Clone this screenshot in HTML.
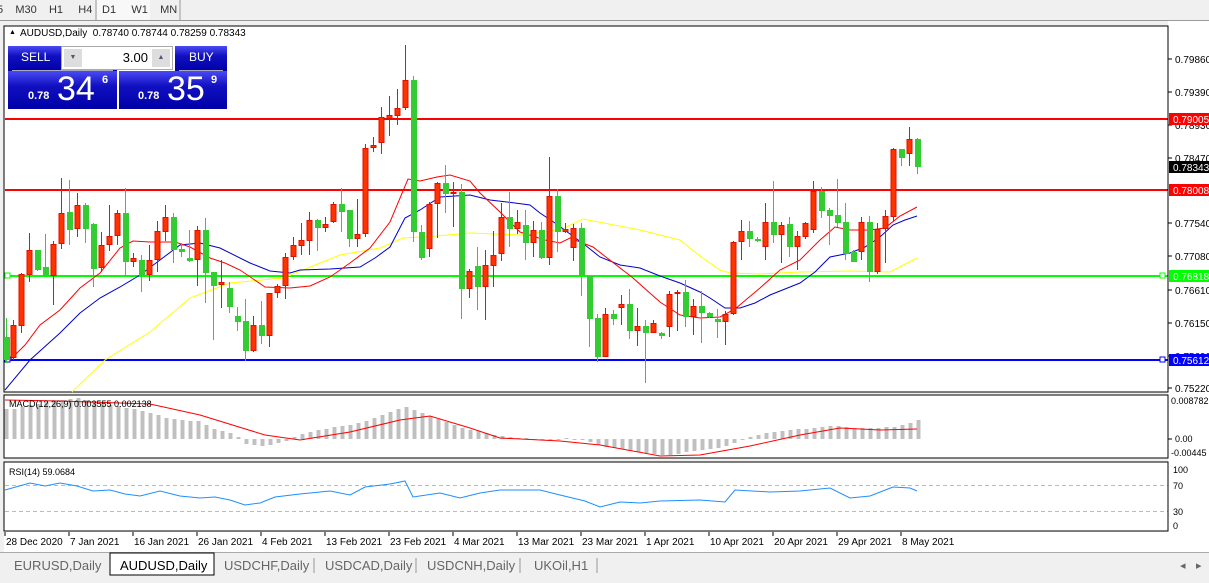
<!DOCTYPE html>
<html><head><meta charset="utf-8"><style>
body{margin:0;width:1209px;height:583px;overflow:hidden;background:#f0f0f0;font-family:"Liberation Sans",sans-serif;position:relative}
.t{position:absolute;font-size:11px;color:#000;white-space:nowrap}
svg{position:absolute;left:0;top:0}
.btn{position:absolute;background:linear-gradient(#4a4af5,#1010c0 40%,#0000a8);color:#fff;text-align:center}
</style></head><body>
<svg id="s" width="1209" height="583"></svg>
<div class="t" style="left:-3px;top:4px;font-size:11px;color:#333">5 &nbsp;&nbsp;&nbsp;M30 &nbsp;&nbsp;&nbsp;H1 &nbsp;&nbsp;&nbsp;&nbsp;H4</div>
<div class="t" style="left:102px;top:4px;color:#333">D1 &nbsp;&nbsp;&nbsp;&nbsp;W1 &nbsp;&nbsp;&nbsp;MN</div>
<div class="t" style="left:20px;top:28px;font-size:10px">AUDUSD,Daily &nbsp;0.78740 0.78744 0.78259 0.78343</div>
<div class="t" style="left:9px;top:29px;font-size:7px">&#9650;</div>
<div class="btn" style="left:8px;top:46px;width:109px;height:25px;"><span style="position:absolute;left:13px;top:4px;font-size:12px">SELL</span><div style="position:absolute;left:4px;right:4px;top:24px;border-top:1px solid #aab"></div></div>
<div class="btn" style="left:8px;top:71px;width:109px;height:38px;"><span style="position:absolute;left:20px;top:19px;font-size:11px;font-weight:bold">0.78</span><span style="position:absolute;left:49px;top:-1px;font-size:34px">34</span><span style="position:absolute;left:94px;top:3px;font-size:11px;font-weight:bold">6</span></div>
<div class="btn" style="left:119px;top:71px;width:108px;height:38px;"><span style="position:absolute;left:19px;top:19px;font-size:11px;font-weight:bold">0.78</span><span style="position:absolute;left:48px;top:-1px;font-size:34px">35</span><span style="position:absolute;left:92px;top:3px;font-size:11px;font-weight:bold">9</span></div>
<div class="btn" style="left:175px;top:46px;width:52px;height:25px;"><span style="position:absolute;left:14px;top:4px;font-size:12px">BUY</span><div style="position:absolute;left:4px;right:4px;top:24px;border-top:1px solid #aab"></div></div>
<div style="position:absolute;left:61px;top:46px;width:112px;height:24px;background:#fff;border:1px solid #aaa;box-sizing:border-box">
<div style="position:absolute;left:2px;top:2px;width:18px;height:18px;background:#ddd;font-size:7px;color:#557;text-align:center;line-height:18px">&#9660;</div>
<div style="position:absolute;right:2px;top:2px;width:18px;height:18px;background:#ddd;font-size:7px;color:#557;text-align:center;line-height:18px">&#9650;</div>
<span style="position:absolute;right:24px;top:3px;font-size:13px">3.00</span></div>
<script>
var S=document.getElementById('s'),h='';
function R(x,y,w,hh,f,st){h+='<rect x="'+x+'" y="'+y+'" width="'+w+'" height="'+hh+'" fill="'+f+'"'+(st?' stroke="'+st+'"':'')+'/>';}
function L(x1,y1,x2,y2,c,w,d){h+='<line x1="'+x1+'" y1="'+y1+'" x2="'+x2+'" y2="'+y2+'" stroke="'+c+'" stroke-width="'+(w||1)+'"'+(d?' stroke-dasharray="'+d+'"':'')+'/>';}
function P(pts,c,w){h+='<polyline fill="none" stroke="'+c+'" stroke-width="'+(w||1)+'" points="'+pts.map(function(p){return p.join(',')}).join(' ')+'"/>';}
function T(x,y,s,sz,c,a){h+='<text x="'+x+'" y="'+y+'" font-size="'+(sz||10)+'" fill="'+(c||'#000')+'"'+(a?' text-anchor="'+a+'"':'')+' font-family="Liberation Sans">'+s+'</text>';}
R(0,0,1209,21,'#f0f0f0');R(97,0,53,21,'#f8f8f8');L(96,0,96,20,'#999');L(180,0,180,20,'#999');L(0,20.5,1209,20.5,'#999');
R(1168,21,41,531,'#fff');
R(4,26,1164,366,'#fff','#000');R(4,395,1164,63,'#fff','#000');R(4,462,1164,69,'#fff','#000');
R(0,21,3,531,'#f0f0f0');
L(5,119,1168,119,'#f00',2);L(5,190,1168,190,'#f00',2);L(5,276,1168,276,'#0f0',2);L(5,360,1168,360,'#00f',2);
R(5,273,5,5,'#fff','#0f0');R(1160,273,5,5,'#fff','#0f0');R(5,357,5,5,'#fff','#00f');R(1160,357,5,5,'#fff','#00f');
P([[72,392],[105,360],[150,332],[190,298],[230,283],[283,278],[340,255],[380,248],[403,238],[437,236],[470,233],[520,235],[560,230],[583,219],[640,230],[680,240],[700,256],[720,270],[730,273],[760,274],[800,272],[850,271],[890,272],[917,258]],'#ff0');
P([[5,390],[30,360],[60,333],[80,313],[100,298],[120,287],[140,275],[160,260],[180,245],[200,243],[220,248],[250,263],[270,271],[290,273],[300,270],[330,269],[360,267],[375,258],[390,247],[405,218],[420,210],[440,197],[470,195],[490,200],[515,203],[530,205],[540,213],[555,223],[570,234],[585,245],[600,257],[620,265],[640,268],[660,276],[680,283],[700,292],[710,298],[725,308],[740,308],[755,303],[770,295],[790,287],[800,283],[815,272],[830,257],[850,253],[865,247],[880,237],[893,225],[905,220],[917,216]],'#00c');
P([[10,360],[25,345],[40,325],[60,310],[80,288],[100,273],[120,248],[133,241],[150,242],[175,242],[190,247],[210,258],[225,263],[240,270],[265,287],[290,288],[310,286],[330,277],[350,263],[370,248],[390,222],[408,179],[420,181],[437,177],[450,175],[470,181],[480,193],[500,212],[520,232],[545,240],[560,243],[570,238],[593,247],[633,278],[660,302],[680,315],[700,318],[720,317],[735,309],[760,288],[780,270],[800,260],[820,240],[835,227],[850,230],[870,230],[885,228],[900,216],[917,207]],'#f00');
var C=[[6,337,360,318,363,'g'],[13,325,358,320,360,'r'],[21,274,326,273,333,'r'],[29,250,275,233,282,'r'],[37,250,270,250,271,'g'],[45,267,276,234,277,'g'],[53,244,276,241,305,'r'],[61,213,244,178,249,'r'],[69,212,230,180,245,'g'],[77,205,229,193,237,'r'],[85,205,229,203,243,'g'],[93,224,269,223,287,'g'],[101,245,268,232,272,'r'],[109,236,245,205,251,'r'],[117,213,236,210,245,'r'],[125,213,262,188,276,'g'],[133,258,262,253,267,'r'],[141,260,276,255,292,'g'],[149,260,275,245,281,'r'],[157,231,260,221,272,'r'],[165,217,232,205,241,'r'],[173,217,250,213,263,'g'],[181,249,252,243,257,'g'],[189,258,261,230,262,'g'],[197,230,260,226,286,'r'],[205,230,273,218,303,'g'],[213,272,286,272,340,'g'],[221,282,285,260,308,'r'],[229,288,307,282,313,'g'],[237,316,322,307,331,'g'],
[245,321,351,299,361,'g'],[253,325,351,316,352,'r'],[261,325,336,301,344,'g'],[269,293,336,293,347,'r'],[277,286,293,284,298,'r'],[285,257,286,253,299,'r'],[293,245,257,237,260,'r'],[301,240,246,223,255,'r'],[309,220,241,212,255,'r'],[317,220,228,219,251,'g'],[325,224,228,217,232,'r'],[333,204,222,202,223,'r'],[341,204,212,188,232,'g'],[349,210,239,210,247,'g'],[357,234,239,199,247,'r'],[365,148,234,144,237,'r'],[373,145,148,137,152,'r'],[381,117,143,107,154,'r'],[389,115,119,96,136,'r'],[397,108,116,89,125,'r'],[405,80,108,45,110,'r'],[413,80,232,76,242,'g'],[421,232,258,225,260,'g'],[429,204,249,202,257,'r'],[437,183,204,182,238,'r'],[445,183,194,165,213,'g'],[453,192,194,182,227,'r'],[461,192,289,184,319,'g'],[469,271,289,269,298,'r'],
[477,266,287,247,310,'g'],[485,265,287,250,320,'r'],[493,255,266,231,287,'r'],[501,217,254,203,261,'r'],[509,217,229,192,247,'g'],[517,222,229,210,234,'r'],[525,225,243,210,260,'g'],[533,230,243,221,257,'r'],[541,230,258,222,259,'g'],[549,196,258,157,265,'r'],[557,196,232,189,252,'g'],[565,229,232,223,233,'r'],[573,228,248,224,261,'r'],[581,228,276,223,296,'g'],[589,276,319,276,347,'g'],[597,318,357,314,362,'g'],[605,314,357,308,357,'r'],[613,314,319,310,325,'g'],[621,304,308,295,325,'r'],[629,304,331,289,339,'g'],[637,326,331,308,346,'r'],[645,326,333,320,383,'g'],[653,323,333,320,333,'r'],[661,333,336,332,339,'g'],[669,294,327,291,337,'r'],[677,292,294,290,331,'r'],[685,292,317,280,327,'g'],[693,306,317,299,335,'r'],
[701,306,313,291,343,'g'],[709,313,317,312,318,'g'],[717,319,322,309,338,'g'],[725,314,322,311,345,'r'],[733,242,314,241,315,'r'],[741,231,242,220,260,'r'],[749,231,239,221,247,'g'],[757,239,241,237,242,'g'],[765,222,247,203,260,'r'],[773,222,235,181,243,'g'],[781,225,235,222,263,'r'],[789,224,247,217,257,'g'],[797,236,247,231,270,'r'],[805,223,237,222,239,'r'],[813,191,230,181,233,'r'],[821,191,211,187,218,'g'],[829,210,216,208,245,'g'],[837,215,223,179,227,'g'],[845,222,254,203,260,'g'],[853,252,262,250,262,'g'],[861,222,252,217,260,'r'],[869,222,272,216,282,'g'],[877,229,272,223,274,'r'],[885,216,229,210,263,'r'],[893,149,217,148,221,'r'],[901,149,158,149,166,'g'],[909,139,154,127,166,'r'],[917,139,167,138,174,'g']];
C.forEach(function(c){var col=c[5]=='r'?'#ff3300':'#33cc33';L(c[0]+.5,c[3],c[0]+.5,c[4],c[5]=='r'?'#ee1100':'#33cc33',1);
 var hh=Math.max(c[2]-c[1],2);if(c[5]=='r')R(c[0]-2,c[1]+.5,5,hh-1,col,'#dd1100');else R(c[0]-2,c[1],6,hh,col);});
L(1168,26,1168,392,'#000');
[[59,'0.79860'],[92,'0.79390'],[125,'0.78930'],[158,'0.78470'],[223,'0.77540'],[256,'0.77080'],[290,'0.76610'],[323,'0.76150'],[356,'0.75690'],[388,'0.75220']].forEach(function(a){L(1168,a[0],1172,a[0],'#000');T(1175,a[0]+4,a[1],10);});
[[119,'0.79005','#f00','#fff'],[167,'0.78343','#000','#fff'],[190,'0.78008','#f00','#fff'],[276,'0.76818','#0f0','#fff'],[360,'0.75612','#00f','#fff']].forEach(function(a){R(1169,a[0]-6,40,12,a[2]);T(1173,a[0]+4,a[1],10,a[3]);});
var mh=[[6,409],[14,409],[22,407],[30,405],[38,404],[46,402],[54,401],[62,400],[70,399],[78,398],[86,400],[94,402],[102,403],[110,405],[118,406],[126,408],[134,409],[142,411],[150,413],[158,415],[166,418],[174,419],[182,420],[190,421],[198,421],[206,425],[214,429],[222,431],[230,433],[238,437],[246,444],[254,445],[262,446],[270,445],[278,443],[286,441],[294,437],[302,434],[310,432],[318,430],[326,429],[334,427],[342,426],[350,425],[358,423],[366,421],[374,418],[382,415],[390,412],[398,409],[406,407],[414,410],[422,413],[430,416],[438,419],[446,422],[454,425],[462,428],[470,430],[478,431],[486,433],[494,435],[502,436],[510,437],[518,438],[526,438],[534,439],[542,440],[550,439],[558,439],[566,438],[574,439],[582,440],[590,442],[598,445],[606,447],[614,448],[622,449],[630,451],[638,452],[646,453],[654,454],[662,455],[670,455],[678,454],[686,452],[694,451],[702,450],[710,449],[718,448],[726,446],[734,443],[742,440],[750,437],[758,435],[766,433],[774,432],[782,431],[790,430],[798,429],[806,429],[814,428],[822,427],[830,426],[838,426],[846,427],[854,428],[862,428],[870,428],[878,428],[886,427],[894,427],[902,425],[910,423],[918,420]];
mh.forEach(function(m){var a=Math.min(m[1],439),b=Math.max(m[1],439);R(m[0]-1.5,a,4,Math.max(b-a,1),'#c0c0c0');});
P([[5,400],[60,401],[150,404],[200,415],[265,435],[300,440],[350,432],[400,420],[430,416],[470,428],[500,438],[560,441],[600,445],[660,456],[700,455],[750,446],[800,435],[840,428],[880,430],[917,429]],'#f00');
T(9,407,'MACD(12,26,9) 0.003555 0.002138',9);
L(1168,395,1168,458,'#000');T(1171,404,'0.008782',9);L(1168,439,1172,439,'#000');T(1175,442,'0.00',9);T(1171,456,'-0.00445',9);
L(5,485.5,1168,485.5,'#bbb',1,'4,3');L(5,511.5,1168,511.5,'#bbb',1,'4,3');
P([[5,490],[30,483],[45,486],[60,483],[77,486],[93,491],[110,490],[125,494],[140,496],[160,491],[180,496],[200,498],[215,497],[230,500],[245,505],[260,503],[275,497],[300,494],[330,491],[350,495],[365,487],[390,484],[405,481],[413,497],[440,493],[460,498],[480,493],[500,490],[540,490],[560,495],[585,501],[600,507],[620,502],[640,503],[660,501],[700,500],[725,502],[735,490],[770,492],[800,491],[830,488],[850,498],[870,496],[893,487],[910,488],[917,491]],'#1e8fff');
T(9,475,'RSI(14) 59.0684',9);
L(1168,462,1168,531,'#000');
[[473,'100'],[489,'70'],[515,'30'],[529,'0']].forEach(function(a){T(1173,a[0],a[1],9);});
R(4,532,1164,20,'#fff');
['28 Dec 2020','7 Jan 2021','16 Jan 2021','26 Jan 2021','4 Feb 2021','13 Feb 2021','23 Feb 2021','4 Mar 2021','13 Mar 2021','23 Mar 2021','1 Apr 2021','10 Apr 2021','20 Apr 2021','29 Apr 2021','8 May 2021'].forEach(function(s,i){var x=5+i*64;L(x,532,x,536,'#000');T(x+1,545,s,10);});
R(0,552,1209,31,'#f0f0f0');L(0,552.5,1209,552.5,'#aaa');
R(110,553,104,22,'#fff','#000');
[['EURUSD,Daily',14,'#666'],['AUDUSD,Daily',120,'#000'],['USDCHF,Daily',224,'#666'],['USDCAD,Daily',325,'#666'],['USDCNH,Daily',427,'#666'],['UKOil,H1',534,'#666']].forEach(function(a){T(a[1],570,a[0],13,a[2]);});
[314,416,520,597].forEach(function(x){L(x,558,x,573,'#999');});
T(1180,569,'◂',11,'#666');T(1196,569,'▸',11,'#666');
S.innerHTML=h;
</script>
</body></html>
